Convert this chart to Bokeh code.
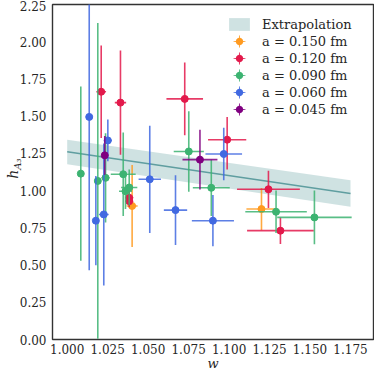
import numpy as np
from bokeh.plotting import figure
from bokeh.models import (ColumnDataSource, Legend, LegendItem, Range1d, FixedTicker,
                          PrintfTickFormatter, LinearAxis)
from bokeh.embed import file_html
from bokeh.resources import INLINE

# ---- data ----
band_w = [1.000, 1.175]
band_mid = [1.261, 0.981]
band_lo = [1.177, 0.892]
band_hi = [1.342, 1.070]

orange_w = [1.0401, 1.1200]
orange_h = [0.897, 0.876]
orange_we = [0.0034, 0.0093]
orange_he = [0.275, 0.142]

red_w = [1.0210, 1.0329, 1.0383, 1.0383, 1.0726, 1.0988, 1.1243, 1.1317]
red_h = [1.664, 1.591, 0.952, 0.929, 1.616, 1.342, 1.009, 0.731]
red_we = [0.0030, 0.0035, 0.0025, 0.0025, 0.0113, 0.0118, 0.0194, 0.0206]
red_he = [0.31, 0.35, 0.045, 0.04, 0.245, 0.20, 0.125, 0.09]

green_w = [1.0084, 1.0189, 1.0237, 1.0346, 1.0360, 1.0383, 1.0751, 1.0890, 1.1290, 1.1527]
green_h = [1.114, 1.065, 1.086, 1.110, 0.996, 1.021, 1.263, 1.019, 0.858, 0.820]
green_we = [0.001, 0.001, 0.0025, 0.0077, 0.004, 0.005, 0.0093, 0.0114, 0.019, 0.023]
green_he = [0.585, 1.06, 0.30, 0.28, 0.12, 0.12, 0.27, 0.19, 0.143, 0.18]

blue_w = [1.0136, 1.0177, 1.0226, 1.0251, 1.0510, 1.0669, 1.0900, 1.0967]
blue_h = [1.495, 0.798, 0.840, 1.337, 1.076, 0.869, 0.798, 1.246]
blue_we = [0.001, 0.001, 0.003, 0.0025, 0.0069, 0.0072, 0.013, 0.0113]
blue_he = [1.03, 0.30, 0.477, 0.14, 0.36, 0.235, 0.172, 0.176]

purple_w = [1.0232, 1.0820]
purple_h = [1.237, 1.208]
purple_we = [0.001, 0.0108]
purple_he = [0.13, 0.20]

series_labels = ["a = 0.150 fm", "a = 0.120 fm", "a = 0.090 fm", "a = 0.060 fm", "a = 0.045 fm"]
series_colors = ["#ff9a1f", "#e3194b", "#3cb371", "#4169e1", "#800080"]

x_ticks = [1.000, 1.025, 1.050, 1.075, 1.100, 1.125, 1.150, 1.175]
y_ticks = [0.00, 0.25, 0.50, 0.75, 1.00, 1.25, 1.50, 1.75, 2.00, 2.25]

FONT = "DejaVu Serif"
TXT = "#262626"

p = figure(width=374, height=373, output_backend="svg", toolbar_location=None,
           x_range=Range1d(0.99092, 1.18919), y_range=Range1d(0.0, 2.25),
           min_border_left=52, min_border_right=1, min_border_top=4, min_border_bottom=32)
p.xgrid.visible = False
p.ygrid.visible = False
p.outline_line_color = "#333333"
p.outline_line_width = 1.4
p.background_fill_color = "white"
p.border_fill_color = "white"

xax = p.xaxis[0]
yax = p.yaxis[0]
for ax in (xax, yax):
    ax.axis_line_color = None
    ax.major_tick_line_color = None
    ax.minor_tick_line_color = None
    ax.major_tick_out = 0
    ax.major_label_text_font = FONT
    ax.major_label_text_font_size = "12px"
    ax.major_label_text_color = TXT
xax.ticker = FixedTicker(ticks=x_ticks)
yax.ticker = FixedTicker(ticks=y_ticks)
xax.formatter = PrintfTickFormatter(format="%.3f")
yax.formatter = PrintfTickFormatter(format="%.2f")
xax.major_label_standoff = 4
yax.major_label_standoff = 6
xax.axis_label = "w"
xax.axis_label_text_font = FONT
xax.axis_label_text_font_style = "italic"
xax.axis_label_text_font_size = "13px"
xax.axis_label_text_color = TXT
xax.axis_label_standoff = -1

# y label h_{A_3}: subscript on the main axis, "h" on an outer label-only axis
yax.axis_label = "\u00a0" * 5 + "A₃"
yax.axis_label_text_font = FONT
yax.axis_label_text_font_style = "italic"
yax.axis_label_text_font_size = "10px"
yax.axis_label_text_color = TXT
yax.axis_label_standoff = -6

hax = LinearAxis(ticker=FixedTicker(ticks=[]), axis_label="h\u00a0")
hax.axis_line_color = None
hax.major_tick_line_color = None
hax.minor_tick_line_color = None
hax.major_tick_out = 0
hax.major_tick_in = 0
hax.major_label_standoff = 0
hax.major_label_text_font_size = "0px"
hax.axis_label_text_font = FONT
hax.axis_label_text_font_style = "italic"
hax.axis_label_text_font_size = "14px"
hax.axis_label_text_color = TXT
hax.axis_label_standoff = -12
p.add_layout(hax, "left")

# extrapolation band
bsrc = ColumnDataSource(dict(w=band_w, mid=band_mid, lo=band_lo, hi=band_hi))
band = p.varea(x="w", y1="lo", y2="hi", source=bsrc, fill_color="#5f9ea0", fill_alpha=0.3)
p.line(x="w", y="mid", source=bsrc, line_color="#5f9ea0", line_width=1.5)

items = [LegendItem(label="Extrapolation", renderers=[band])]

all_series = [
    (orange_w, orange_h, orange_we, orange_he),
    (red_w, red_h, red_we, red_he),
    (green_w, green_h, green_we, green_he),
    (blue_w, blue_h, blue_we, blue_he),
    (purple_w, purple_h, purple_we, purple_he),
]

for (w, h, we, he), lab, col in zip(all_series, series_labels, series_colors):
    w = np.array(w); h = np.array(h); we = np.array(we); he = np.array(he)
    src = ColumnDataSource(dict(w=w, h=h, wl=w - we, wh=w + we, hl=h - he, hh=h + he))
    p.segment(x0="w", y0="hl", x1="w", y1="hh", source=src, line_color=col, line_width=1.6, line_alpha=0.85)
    p.segment(x0="wl", y0="h", x1="wh", y1="h", source=src, line_color=col, line_width=1.6, line_alpha=0.85)
    pts = p.scatter(x="w", y="h", source=src, marker="circle", size=7, fill_color=col, line_color=col)
    # legend proxies for the error-bar cross: no position, so nothing is drawn on the plot
    proxy = ColumnDataSource(dict(w=[np.nan], h=[np.nan]))
    vbar = p.ellipse(x="w", y="h", source=proxy, width=2, height=16, width_units="screen",
                     height_units="screen", fill_color=col, fill_alpha=0.85, line_color=None)
    hbar = p.ellipse(x="w", y="h", source=proxy, width=16, height=2, width_units="screen",
                     height_units="screen", fill_color=col, fill_alpha=0.85, line_color=None)
    items.append(LegendItem(label=lab, renderers=[vbar, hbar, pts]))

legend = Legend(items=items, location=(174, 222))
legend.label_text_font = FONT
legend.label_text_font_size = "13px"
legend.label_text_color = TXT
legend.glyph_width = 26
legend.glyph_height = 16
legend.label_height = 16
legend.spacing = 1
legend.padding = 5
legend.margin = 0
legend.label_standoff = 10
legend.border_line_color = None
legend.background_fill_alpha = 1.0
p.add_layout(legend)

open("out.html", "w").write(file_html(p, INLINE))
